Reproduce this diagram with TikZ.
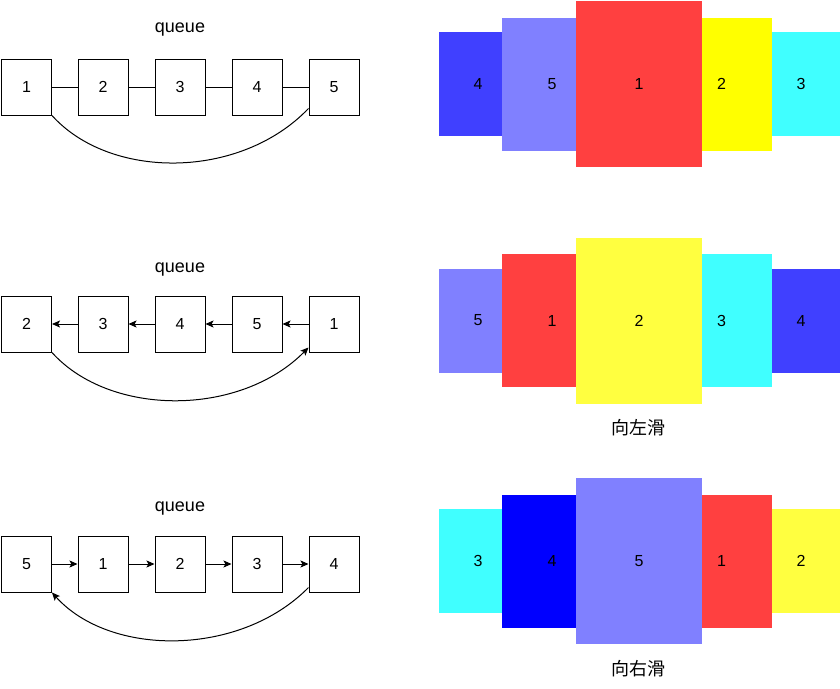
\documentclass[tikz,border=0pt]{standalone}
\usepackage{fontspec}
\setmainfont{Liberation Sans}
\newfontfamily\cjk{Noto Sans CJK SC}
\usetikzlibrary{arrows.meta}
\definecolor{cBlueA}{HTML}{4040FF}
\definecolor{cBlueB}{HTML}{8080FF}
\definecolor{cBlueC}{HTML}{0000FF}
\definecolor{cRed}{HTML}{FF4040}
\definecolor{cYelA}{HTML}{FFFF00}
\definecolor{cYelB}{HTML}{FFFF40}
\definecolor{cCyan}{HTML}{40FFFF}
\tikzset{
  qbox/.style={draw=black, line width=1pt, fill=white, minimum width=50pt, minimum height=56pt, inner sep=0pt, font=\fontsize{16}{19}\selectfont},
  qtitle/.style={font=\fontsize{18}{21}\selectfont},
  link/.style={draw=black, line width=1pt},
  arr/.style={draw=black, line width=1pt, -{Stealth[length=8pt,width=7pt,inset=1.8pt]}},
  slide/.style={inner sep=0pt, outer sep=0pt, font=\fontsize{16}{19}\selectfont, text=black},
  sOuter/.style={slide, minimum width=78pt, minimum height=104pt},
  sInner/.style={slide, minimum width=100pt, minimum height=133pt},
  sMid/.style={slide, minimum width=126pt, minimum height=166pt},
  slideLabel/.style={font=\cjk\fontsize{18}{21}\selectfont}
}
\begin{document}
\begin{tikzpicture}[x=1pt,y=-1pt]
\useasboundingbox (0,0) rectangle (840,688);

% ---------- row 1 (left) ----------
\node[qtitle] (t1) at (180,30) {queue};
\node[qbox] (a1) at (26.5,87) {1};
\node[qbox] (a2) at (103,87) {2};
\node[qbox] (a3) at (180,87) {3};
\node[qbox] (a4) at (257,87) {4};
\node[qbox] (a5) at (334,87) {5};
\draw[link] (a1) -- (a2);
\draw[link] (a2) -- (a3);
\draw[link] (a3) -- (a4);
\draw[link] (a4) -- (a5);
\draw[link] (a1.south east) .. controls (110,180) and (240,180) .. ([yshift=7pt]a5.south west);

% ---------- row 2 (left) ----------
\node[qtitle] (t2) at (180,270) {queue};
\node[qbox] (b1) at (26.5,324) {2};
\node[qbox] (b2) at (103,324) {3};
\node[qbox] (b3) at (180,324) {4};
\node[qbox] (b4) at (257,324) {5};
\node[qbox] (b5) at (334,324) {1};
\draw[arr] (b2) -- (b1);
\draw[arr] (b3) -- (b2);
\draw[arr] (b4) -- (b3);
\draw[arr] (b5) -- (b4);
\draw[arr] (b1.south east) .. controls (110,417) and (240,417) .. ([yshift=5pt]b5.south west);

% ---------- row 3 (left) ----------
\node[qtitle] (t3) at (180,509) {queue};
\node[qbox] (c1) at (26.5,564) {5};
\node[qbox] (c2) at (103,564) {1};
\node[qbox] (c3) at (180,564) {2};
\node[qbox] (c4) at (257,564) {3};
\node[qbox] (c5) at (334,564) {4};
\draw[arr] (c1) -- (c2);
\draw[arr] (c2) -- (c3);
\draw[arr] (c3) -- (c4);
\draw[arr] (c4) -- (c5);
\draw[arr] ([yshift=5pt]c5.south west) .. controls (240,657) and (110,657) .. (c1.south east);

% ---------- row 1 (right) ----------
\node[sOuter, fill=cBlueA] (p4) at (478,84) {4};
\node[sOuter, fill=cCyan] (p3) at (801,84) {3};
\node[sInner, fill=cBlueB] (p5) at (552,84) {5};
\node[sInner, fill=cYelA] (p2) at (721.5,84) {2};
\node[sMid, fill=cRed] (p1) at (639,84) {1};

% ---------- row 2 (right) ----------
\node[sOuter, fill=cBlueB] (q5) at (478,320.5) {5};
\node[sOuter, fill=cBlueA] (q4) at (801,320.5) {4};
\node[sInner, fill=cRed] (q1) at (552,320.5) {1};
\node[sInner, fill=cCyan] (q3) at (721.5,320.5) {3};
\node[sMid, fill=cYelB] (q2) at (639,320.5) {2};
\node[slideLabel] (l1) at (638,428) {向左滑};

% ---------- row 3 (right) ----------
\node[sOuter, fill=cCyan] (r3) at (478,561) {3};
\node[sOuter, fill=cYelB] (r2) at (801,561) {2};
\node[sInner, fill=cBlueC] (r4) at (552,561) {4};
\node[sInner, fill=cRed] (r1) at (721.5,561) {1};
\node[sMid, fill=cBlueB] (r5) at (639,561) {5};
\node[slideLabel] (l2) at (638,669) {向右滑};
\end{tikzpicture}
\end{document}
